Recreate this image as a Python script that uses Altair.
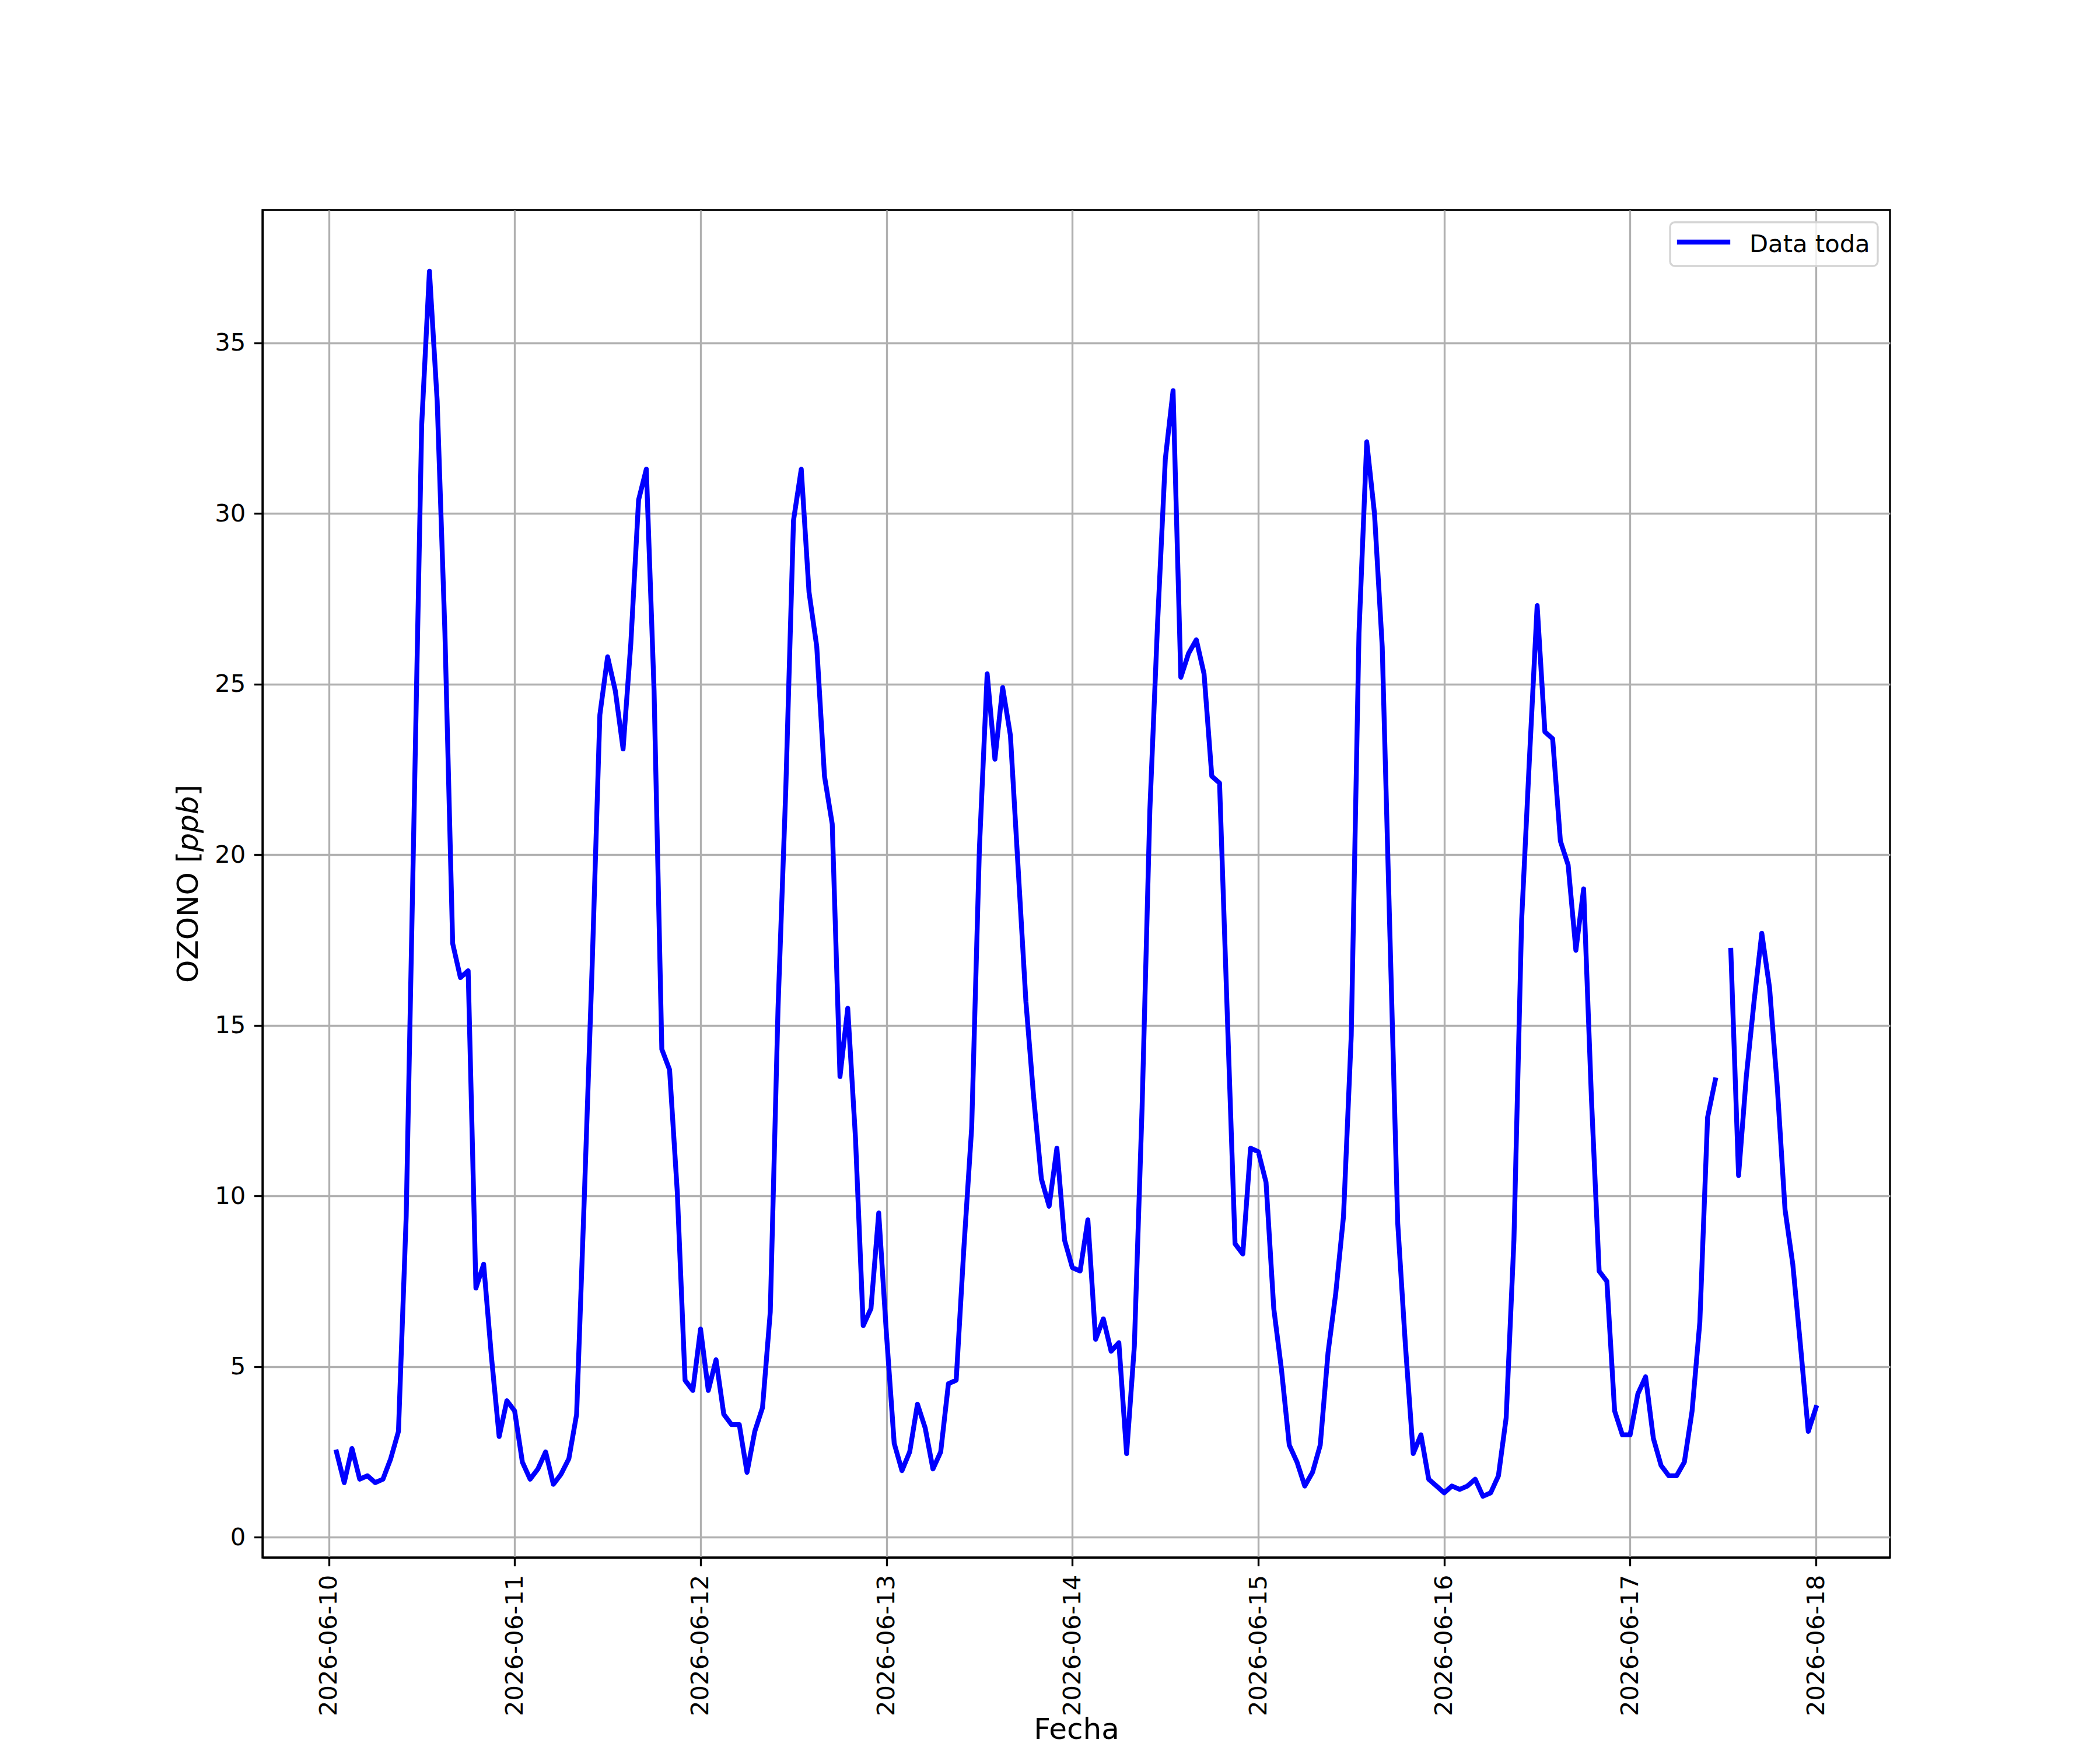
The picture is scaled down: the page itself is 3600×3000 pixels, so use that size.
import altair as alt
import pandas as pd

# Hourly ozone readings (ppb)
day_0610 = [2.5, 1.6, 2.6, 1.7, 1.8, 1.6, 1.7, 2.3, 3.1, 9.4, 21.0, 32.6, 37.1, 33.3,
            26.5, 17.4, 16.4, 16.6, 7.3, 8.0, 5.3, 2.95, 4.0]  # 01:00 .. 23:00
day_0611 = [3.7, 2.2, 1.7, 2.0, 2.5, 1.55, 1.85, 2.3, 3.6, 10.0, 16.7, 24.1, 25.8, 24.8,
            23.1, 26.2, 30.4, 31.3, 24.8, 14.3, 13.7, 10.1, 4.6, 4.3]
day_0612 = [6.1, 4.3, 5.2, 3.6, 3.3, 3.3, 1.9, 3.1, 3.8, 6.6, 15.5, 21.9, 29.8, 31.3,
            27.7, 26.1, 22.3, 20.9, 13.5, 15.5, 11.7, 6.2, 6.7, 9.5]
day_0613 = [5.95, 2.75, 1.95, 2.5, 3.9, 3.2, 2.0, 2.5, 4.5, 4.6, 8.5, 12.0, 20.2, 25.3,
            22.8, 24.9, 23.5, 19.6, 15.7, 12.9, 10.5, 9.7, 11.4, 8.7]
day_0614 = [7.9, 7.8, 9.3, 5.8, 6.4, 5.45, 5.7, 2.45, 5.6, 12.6, 21.3, 26.8, 31.6, 33.6,
            25.2, 25.9, 26.3, 25.3, 22.3, 22.1, 15.3, 8.6, 8.3, 11.4]
day_0615 = [11.3, 10.4, 6.7, 4.9, 2.7, 2.2, 1.5, 1.9, 2.7, 5.4, 7.15, 9.4, 14.7, 26.5,
            32.1, 30.0, 26.1, 17.6, 9.2, 5.6, 2.45, 3.0, 1.7, 1.5]
day_0616 = [1.3, 1.5, 1.4, 1.5, 1.7, 1.2, 1.3, 1.8, 3.5, 8.7, 18.1, 22.8, 27.3, 23.6,
            23.4, 20.4, 19.7, 17.2, 19.0, 12.9, 7.8, 7.5, 3.7, 3.0]
day_0617 = [3.0, 4.2, 4.7, 2.9, 2.1, 1.8, 1.8, 2.2, 3.7, 6.3, 12.3, 13.4, None, 17.2,
            10.6, 13.5, 15.7, 17.7, 16.1, 13.2, 9.6, 8.0, 5.6, 3.1]
day_0618 = [3.8]

series_name = "Data toda"
x_title = "Fecha"
y_title_parts = ["OZONO [", "ppb", "]"]   # "ppb" is italic (math text) in the original
x_ticks = ["2026-06-10", "2026-06-11", "2026-06-12", "2026-06-13", "2026-06-14",
           "2026-06-15", "2026-06-16", "2026-06-17", "2026-06-18"]
y_ticks = [0, 5, 10, 15, 20, 25, 30, 35]

values = (day_0610 + day_0611 + day_0612 + day_0613 + day_0614 + day_0615
          + day_0616 + day_0617 + day_0618)
times = pd.date_range("2026-06-10 01:00", periods=len(values), freq="h")

df = pd.DataFrame({"fecha": times.strftime("%Y-%m-%dT%H:%M:%S"), "ozono": values})
df["seg"] = df["ozono"].isna().cumsum()
df = df.dropna(subset=["ozono"]).reset_index(drop=True)
df["serie"] = series_name


def dt(s, h=0, m=0):
    y, mo, d = (int(p) for p in s.split("-"))
    return alt.DateTime(year=y, month=mo, date=d, hours=h, minutes=m)


FONT = "DejaVu Sans"
TICK = 41.7
LAB = 50
LW = 3.33
W, H = 2790, 2310

x_axis = alt.Axis(
    values=[dt(s) for s in x_ticks], format="%Y-%m-%d", labelAngle=270,
    labelAlign="right", labelBaseline="middle",
    tickSize=14.6, tickWidth=LW, tickColor="black", labelPadding=14.6,
    labelFont=FONT, labelFontSize=TICK, labelColor="black", labelLimit=1000,
    labelFlush=False, labelOverlap=False,
    domainColor="black", domainWidth=LW,
    grid=True, gridColor="#b0b0b0", gridWidth=LW,
    title=x_title, titleFont=FONT, titleFontSize=LAB, titleFontWeight="normal",
    titleColor="black", titleBaseline="alphabetic", titleAlign="center",
    titleX=W / 2, titleY=310,
)
y_axis = alt.Axis(
    values=y_ticks, tickSize=14.6, tickWidth=LW, tickColor="black", labelPadding=14.6,
    labelFont=FONT, labelFontSize=TICK, labelColor="black", labelLimit=1000,
    labelFlush=False, labelOverlap=False,
    domainColor="black", domainWidth=LW,
    grid=True, gridColor="#b0b0b0", gridWidth=LW,
    title=None,
)

line = alt.Chart(df).mark_line(
    strokeWidth=8.33, strokeJoin="round", strokeCap="square"
).encode(
    x=alt.X("fecha:T", axis=x_axis,
            scale=alt.Scale(domain=[dt("2026-06-09", 15, 27), dt("2026-06-18", 9, 33)])),
    y=alt.Y("ozono:Q", axis=y_axis,
            scale=alt.Scale(domain=[-0.595, 38.895], nice=False, zero=False)),
    color=alt.Color("serie:N", scale=alt.Scale(range=["#0000ff"]), legend=None),
    detail="seg:N",
)

legend_data = alt.Data(values=[{"serie": series_name}])
leg_box = alt.Chart(legend_data).mark_rect(
    fill="white", fillOpacity=0.8, stroke="#d4d4d4", strokeWidth=3.3, cornerRadius=8
).encode(x=alt.value(2413), x2=alt.value(2769), y=alt.value(21), y2=alt.value(96))
leg_line = alt.Chart(legend_data).mark_rule(
    color="#0000ff", strokeWidth=8.33, strokeCap="square"
).encode(x=alt.value(2429), x2=alt.value(2512), y=alt.value(55))
leg_text = alt.Chart(legend_data).mark_text(
    align="left", baseline="alphabetic", font=FONT, fontSize=TICK, color="black"
).encode(x=alt.value(2549), y=alt.value(71.7), text="serie:N")

# y-axis title assembled from three pieces so that "ppb" can be italic
w_em = {"O": 0.787, "Z": 0.685, "N": 0.748, " ": 0.318, "[": 0.390, "]": 0.390,
        "p": 0.635, "b": 0.635}
piece_w = [sum(w_em[c] for c in p) * LAB for p in y_title_parts]
y_start = H / 2 + sum(piece_w) / 2
title_layers = []
pos = y_start
for part, w, style in zip(y_title_parts, piece_w, ["normal", "italic", "normal"]):
    title_layers.append(
        alt.Chart(alt.Data(values=[{"t": part}])).mark_text(
            align="left", baseline="alphabetic", angle=270, font=FONT, fontSize=LAB,
            fontStyle=style, color="black"
        ).encode(x=alt.value(-111), y=alt.value(pos), text="t:N")
    )
    pos -= w

chart = alt.layer(line, leg_box, leg_line, leg_text, *title_layers).properties(
    width=W, height=H,
    autosize=alt.AutoSizeParams(type="none"),
    padding={"left": 442, "top": 352, "right": 345, "bottom": 322},
    background="white",
).configure_view(
    stroke="black", strokeWidth=LW
)

chart.save("out.html", embed_options={"renderer": "svg", "actions": False})
